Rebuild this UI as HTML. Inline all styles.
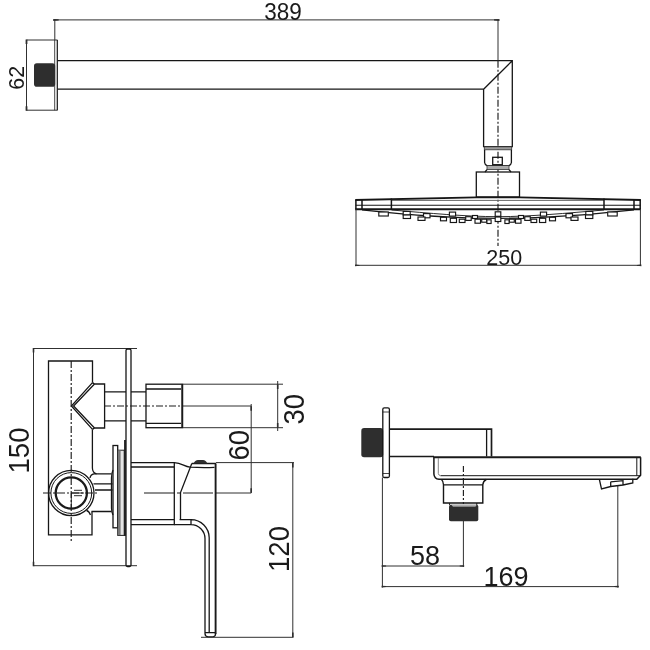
<!DOCTYPE html>
<html><head><meta charset="utf-8"><style>
html,body{margin:0;padding:0;background:#fff;}
body{width:650px;height:650px;overflow:hidden;font-family:"Liberation Sans",sans-serif;}
svg{display:block;filter:blur(0.42px);}
text{font-family:"Liberation Sans",sans-serif;fill:#1a1a1a;}
.l{stroke:#161616;stroke-width:1.3;fill:none;stroke-linecap:butt;stroke-linejoin:miter;}
.t{stroke:#1a1a1a;stroke-width:2;fill:none;}
.d{stroke:#303030;stroke-width:1;fill:none;}
.c{stroke:#1c1c1c;stroke-width:1.15;fill:none;stroke-dasharray:7 2 2 2;}
.k{fill:#2e2e2e;stroke:none;}
.g{fill:#9a9a9a;stroke:#333;stroke-width:0.8;}
</style></head><body>
<svg width="650" height="650" viewBox="0 0 650 650">
<rect width="650" height="650" fill="#fff"/>

<!-- ===== TOP: shower arm + head ===== -->
<g id="top">
<path class="d" d="M54.8 19.9H498M54.8 19.4V40M26.5 40V110.2M26.5 40H57.5M26.5 110.2H57.5"/>
<path class="k" d="M53.2 18.9l5.5 0.4v1.2l-5.5 0.4zM499.5 18.9l-5.5 0.4v1.2l5.5 0.4zM25.6 39.5v4.5h1.8v-4.5zM25.6 110.7v-4.5h1.8v4.5z"/>
<path class="l" d="M54.7 40V110.2" style="stroke-width:0.8"/><path class="l" d="M57.3 40V110.2" style="stroke-width:1.2"/>
<rect class="k" x="34" y="63.3" width="21.2" height="23.4" rx="2.8"/>
<path class="l" d="M57.5 60.7H512.3V146.6H483.6V89.2H57.5M483.6 89.2L512.3 60.7"/>
<path class="d" d="M498 20V60.7"/>
<path class="c" d="M498 60.7V246"/>
<rect class="g" x="484.3" y="146.8" width="27.4" height="3"/>
<path class="l" d="M484.6 150V162.5Q484.8 164.5 487 165.6H509Q511.2 164.5 511.4 162.5V150"/>
<rect class="g" x="487" y="165.6" width="22" height="4" style="fill:#aaa"/>
<path class="l" d="M487 169.6L485 172M509 169.6L511 172"/>
<rect class="l" x="492.7" y="157.3" width="9.6" height="7.4"/>
<rect class="l" x="476.3" y="172" width="43.2" height="25"/>
<!-- head -->
<path class="l" d="M355.2 200L476 197.4H520L640.9 200" style="stroke-width:1.9"/>
<path d="M391.5 200.4H604" stroke="#666" stroke-width="1" fill="none"/>
<path class="l" d="M355.9 200V209.2M362 200V209.2M391.4 198.5V209.2M604 198.5V209.2M634 200V209.2M640.2 200V209.2" style="stroke-width:1.5"/>
<path class="l" d="M355.7 205.3H640.4" style="stroke-width:1.1"/>
<path class="l" d="M355.2 209.3H640.9" style="stroke-width:1.9"/>
<path class="l" d="M362 209.8C420 216.2 460 218.3 498 218.3C536 218.3 576 216.2 634 209.8"/>
<path class="l" d="M391.5 210C430 213.2 465 216.6 498 216.7C531 216.6 566 213.2 604 210" style="stroke-width:0.9"/>
<g class="l" style="stroke-width:1.15;fill:#fff">
<rect x="378.8" y="212.0" width="9.5" height="4.0"/><rect x="607.7" y="212.0" width="9.5" height="4.0"/><rect x="403.2" y="211.4" width="7.0" height="3.6"/><rect x="585.8" y="211.4" width="7.0" height="3.6"/><rect x="403.2" y="215.0" width="7.3" height="3.5"/><rect x="585.5" y="215.0" width="7.3" height="3.5"/><rect x="423.5" y="213.6" width="6.5" height="4.2"/><rect x="566.0" y="213.6" width="6.5" height="4.2"/><rect x="418.0" y="217.0" width="7.0" height="3.4"/><rect x="571.0" y="217.0" width="7.0" height="3.4"/><rect x="440.5" y="217.3" width="6.0" height="3.5"/><rect x="549.5" y="217.3" width="6.0" height="3.5"/><rect x="449.4" y="212.1" width="6.2" height="4.0"/><rect x="540.4" y="212.1" width="6.2" height="4.0"/><rect x="450.3" y="218.3" width="6.2" height="4.2"/><rect x="539.5" y="218.3" width="6.2" height="4.2"/><rect x="459.3" y="219.2" width="5.7" height="3.3"/><rect x="531.0" y="219.2" width="5.7" height="3.3"/><rect x="465.7" y="216.7" width="5.5" height="3.7"/><rect x="524.8" y="216.7" width="5.5" height="3.7"/><rect x="472.5" y="215.5" width="5.0" height="3.0"/><rect x="518.5" y="215.5" width="5.0" height="3.0"/><rect x="475.0" y="219.2" width="5.5" height="4.0"/><rect x="515.5" y="219.2" width="5.5" height="4.0"/><rect x="481.7" y="219.2" width="5.0" height="3.0"/><rect x="509.3" y="219.2" width="5.0" height="3.0"/><rect x="486.9" y="219.8" width="4.2" height="3.7"/><rect x="504.9" y="219.8" width="4.2" height="3.7"/><rect x="495.2" y="211.8" width="5.6" height="4.5"/><rect x="495.2" y="217.0" width="5.6" height="4.5"/>
</g>
<path class="d" d="M356 209V266M640.4 209V266M356 265.3H640.4"/>
<path class="k" d="M355 264.5l4.5 0.4v0.9l-4.5 0.4zM641.4 264.5l-4.5 0.4v0.9l4.5 0.4z"/>
<text transform="translate(283 19.9) scale(1 1.09)" font-size="22.5" text-anchor="middle">389</text>
<text x="504.3" y="265" font-size="21.5" text-anchor="middle">250</text>
<text transform="translate(24 77.8) rotate(-90)" font-size="21.5" text-anchor="middle">62</text>
</g>

<!-- ===== BOTTOM LEFT: mixer ===== -->
<g id="mixer">
<path class="d" d="M33.5 348.5V565.7M33.5 348.5H137M33.5 565.7H137"/>
<path class="k" d="M32.7 348v4.5h1.6v-4.5zM32.7 566.2v-4.5h1.6v4.5z"/>
<rect class="l" x="126" y="349" width="5" height="217.5" rx="1.5"/>
<path class="l" d="M92.5 382.6V361H48.5V534.8H92V511.5"/>
<path class="l" d="M92.4 429.4V468Q92.5 473 96.5 473.8M90 478Q90.5 474.5 94 473.8M86.5 510.5Q89 511 90.5 515"/>
<path class="c" d="M71.2 361V541"/>
<path class="l" d="M92.5 382.6L94.5 384H104.6V428H94.5L92.5 429.4M92.5 382.6L71.4 406L92.5 429.4M94.5 384L73.6 406L94.5 428" />
<path class="l" d="M104.6 391.8H126M104.6 420.8H126M131 391.8H146M131 420.8H146"/>
<path class="c" d="M104 406H183"/>
<path class="d" d="M183 406H251.2"/>
<rect class="l" x="146" y="384.2" width="36.5" height="43.5"/>
<path class="l" d="M146 389H181M146 423.3H181"/>
<path class="t" d="M182.2 384.2V427.7" style="stroke-width:1.8"/>
<path class="d" d="M183 384.2H283M183 427.7H283M277.7 381V431M251.2 404V493"/>
<path class="k" d="M276.9 384.5v4.5h1.6v-4.5zM276.9 427.4v-4.5h1.6v4.5zM250.4 406.2v4.5h1.6v-4.5zM250.4 492.8v-4.5h1.6v4.5z"/>
<!-- valve circle -->
<circle class="l" cx="71.3" cy="493" r="22.7"/>
<circle class="l" cx="71.3" cy="493" r="20.4" style="stroke-width:1"/>
<circle class="t" cx="71.3" cy="493" r="15.6" style="stroke-width:2.3"/>
<path class="c" d="M43 493H98" style="stroke-dasharray:8 2 2 2"/>
<path class="l" d="M71.3 493H84M74 490.3H82M74 495.7H82M71.3 493V508" style="stroke-width:0.9"/>
<path class="l" d="M94 473.8H111.5M91.5 511.5H111.5M93.5 483.8H112.5M95 490H112.5"/>
<path class="l" d="M113 470Q111.6 473 111.5 478V508Q111.6 512 113 515"/>
<rect class="l" x="113" y="445.5" width="4.7" height="82.3"/>
<rect x="117.7" y="450.2" width="6.5" height="85.2" fill="#e4e4e4" stroke="#222" stroke-width="1"/><rect x="118" y="450.5" width="2.6" height="84.6" fill="#777"/>
<path class="t" d="M125 440V536" style="stroke-width:1.8"/>
<!-- handle -->
<path class="l" d="M131 462.7H174.3V524.6H131M131 467H174.3M131 519.6H174.3"/>
<path class="l" d="M174.3 462.7C182 463 184 466.5 190 467.2M191.8 463.5H216M190 467.2Q203 468 214.5 467.4" />
<path class="k" d="M193.5 463.6Q195 460 198 460H203Q206 460 207.3 463.6z"/>
<path class="l" d="M191.8 463.5L180.5 492.5V519.6"/>
<path class="c" d="M144 493H216" style="stroke-dasharray:30 3 3 3"/>
<path class="d" d="M216 493H251.2"/>
<path class="l" d="M179.6 519.6H191A18.2 18.2 0 0 1 209.2 537.8V633M174.3 524.6H191A14 14 0 0 1 205 538.6V633.5Q205 636.6 208 636.8H213Q215.6 636.6 215.6 633.5M191 519.6V524.6M205 632.7H215.6"/>
<path class="t" d="M215.6 463.5V634" style="stroke-width:1.9"/>
<path class="d" d="M216 462.6H294M292.8 462.6V637.3M201 637.3H293.5"/>
<path class="k" d="M292 463v4.5h1.6v-4.5zM292 637v-4.5h1.6v4.5z"/>
<text transform="translate(29.3 450.5) rotate(-90) scale(1 1.04)" font-size="27.5" text-anchor="middle">150</text>
<text transform="translate(303.5 409.2) rotate(-90) scale(1 1.05)" font-size="27.5" text-anchor="middle">30</text>
<text transform="translate(249.3 445.3) rotate(-90) scale(1 1.05)" font-size="27.5" text-anchor="middle">60</text>
<text transform="translate(288.8 549) rotate(-90) scale(1 1.04)" font-size="27.5" text-anchor="middle">120</text>
</g>

<!-- ===== BOTTOM RIGHT: spout ===== -->
<g id="spout">
<rect class="k" x="361.3" y="428.1" width="21.9" height="29.2" rx="2.8"/>
<rect class="l" x="382.8" y="407.8" width="6.6" height="69.7" rx="1.5"/>
<path class="l" d="M382.8 412H389.4M382.8 473.5H389.4" style="stroke-width:0.8"/>
<path class="t" d="M389.4 429.2H491.5V456.5M389.4 456.5H434" style="stroke-width:1.7"/>
<path class="l" d="M486.6 429.2V456.5"/>
<path class="t" d="M433.3 457.2H640.8" style="stroke-width:2"/>
<path class="l" d="M433.9 457.2V474Q434.2 478.8 439 479.3H636.8L640.6 475.3V457.2" style="stroke-width:1.5"/>
<path class="l" d="M440.5 475.7H640.4M636.8 458V475.7" style="stroke-width:1"/><path class="l" d="M438.3 458V473.5Q438.5 475.4 440.5 475.7" style="stroke-width:0.9;stroke:#777"/>
<path class="l" d="M441.5 479.5Q443.2 481 443.5 484.8V503H482.8V484.8Q483.2 481 486.3 479.5M443.5 484.9H482.8" style="stroke-width:1.4"/>
<path class="l" d="M449.6 503V505M476.8 503V505" style="stroke-width:1"/>
<rect class="k" x="449" y="504.8" width="29.3" height="16.4" rx="1.8"/>
<path d="M451.5 505.3H476.5L475.5 506.6H453z" fill="#ddd"/>
<path class="c" d="M463.4 466V504" style="stroke-dasharray:6 2 2 2"/>
<path class="d" d="M463.4 521V567M382.4 477.5V587.5M382.4 566H463.4M382.4 586.6H618M617.8 486V587.5"/>
<path class="k" d="M381.6 565.2l4.5 0.3v1l-4.5 0.3zM464.2 565.2l-4.5 0.3v1l4.5 0.3zM381.6 585.8l4.5 0.3v1l-4.5 0.3zM618.8 585.8l-4.5 0.3v1l4.5 0.3z"/>
<path class="l" d="M599.4 479.5L601.5 489L610.7 486.5L623 485L632.8 483V478.8M610.7 481.8L623 480.6V485M610.7 481.8V486.5"/>
<text x="425" y="565" font-size="27" text-anchor="middle">58</text>
<text x="506" y="585.6" font-size="27" text-anchor="middle">169</text>
</g>
</svg>
</body></html>
